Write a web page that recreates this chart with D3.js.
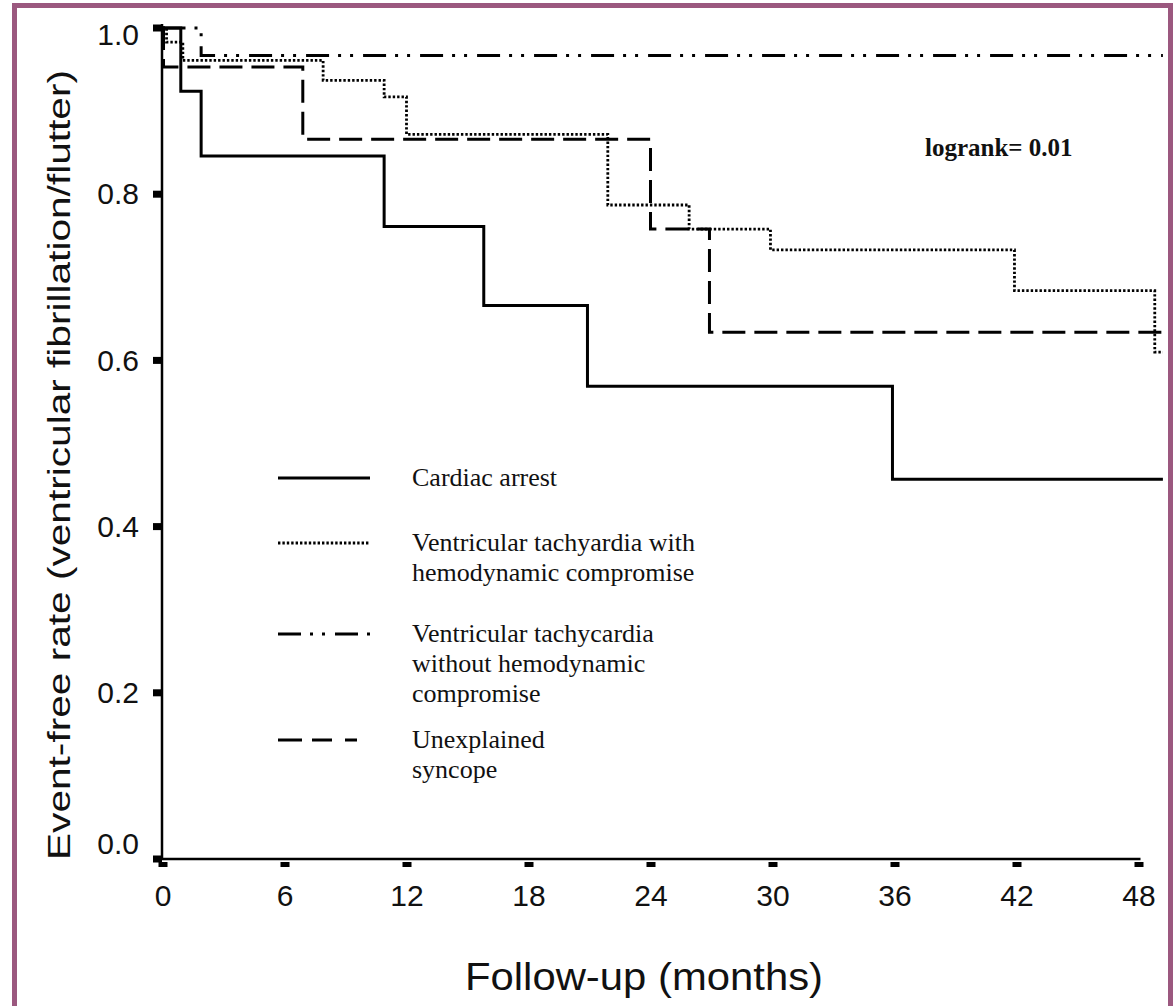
<!DOCTYPE html>
<html>
<head>
<meta charset="utf-8">
<script src="https://cdn.jsdelivr.net/npm/d3@7"></script>
<style>
  html, body { margin: 0; padding: 0; background: #fff; }
  svg { display: block; }
</style>
</head>
<body>
<div id="chart"></div>
<script>
(function () {

    // tick labels
    const monthTicks = [0, 6, 12, 18, 24, 30, 36, 42, 48]
    const rateTicks = [0, 0.2, 0.4, 0.6, 0.8, 1.0]

    // Kaplan-Meier steps (time in months, event-free rate)
    const cardiacTimes = [0, 0.9, 1.9, 10.9, 15.8, 20.9, 35.9, 49.2]
    const cardiacRates = [1.0, 0.924, 0.846, 0.761, 0.666, 0.569, 0.457, 0.457]

    const vtWithTimes = [0, 0.2, 1.0, 7.9, 10.9, 12.0, 21.9, 25.9, 29.9, 41.9, 48.8, 49.2]
    const vtWithRates = [1.0, 0.983, 0.961, 0.937, 0.917, 0.872, 0.787, 0.758, 0.733, 0.684, 0.610, 0.610]

    const vtWithoutTimes = [0, 1.9, 49.2]
    const vtWithoutRates = [1.0, 0.967, 0.967]

    const syncopeTimes = [0, 0.05, 6.9, 24.0, 26.9, 49.2]
    const syncopeRates = [1.0, 0.953, 0.866, 0.758, 0.634, 0.634]

    const seriesNames = [
        ["Cardiac arrest"],
        ["Ventricular tachyardia with", "hemodynamic compromise"],
        ["Ventricular tachycardia", "without hemodynamic", "compromise"],
        ["Unexplained", "syncope"]
    ]

    const width = 1173, height = 1006
    const border = "#9b587f"

    const svg = d3.select("#chart")
        .append("svg")
        .attr("width", width)
        .attr("height", height)

    svg.append("rect")
        .attr("x", 14.5).attr("y", 5.5)
        .attr("width", 1156).attr("height", 1020)
        .attr("fill", "#fff")
        .attr("stroke", border)
        .attr("stroke-width", 5)

    const x = d3.scaleLinear().domain([0, 48]).range([162.5, 1138.5])
    const y = d3.scaleLinear().domain([0, 1]).range([859, 28])

    // line styles per series
    const styles = [
        {dash: null, width: 3},
        {dash: "2.4,2", width: 2.8},
        {dash: "23,9,3,9,3,10", width: 3},
        {dash: "23,9", width: 3}
    ]

    const series = [
        d3.zip(cardiacTimes, cardiacRates),
        d3.zip(vtWithTimes, vtWithRates),
        d3.zip(vtWithoutTimes, vtWithoutRates),
        d3.zip(syncopeTimes, syncopeRates)
    ]

    // x axis: labels only, ticks drawn as little blocks
    svg.append("g")
        .attr("transform", "translate(0,859)")
        .call(d3.axisBottom(x).tickValues(monthTicks).tickSize(0).tickPadding(26)
            .tickFormat(d3.format("d")))
        .call(g => g.select(".domain").remove())
        .call(g => g.selectAll("text")
            .attr("font-family", "Liberation Sans, Arial, sans-serif")
            .attr("font-size", 30)
            .attr("fill", "#111"))

    svg.append("g")
        .attr("transform", "translate(162,0)")
        .call(d3.axisLeft(y).tickValues(rateTicks).tickSize(0).tickPadding(23)
            .tickFormat(d3.format(".1f")))
        .call(g => g.select(".domain").remove())
        .call(g => g.selectAll("text")
            .attr("font-family", "Liberation Sans, Arial, sans-serif")
            .attr("font-size", 30)
            .attr("fill", "#111")
            .attr("y", d => d === 0 ? -15 : (d === 1 ? 7 : 0)))

    svg.append("g").selectAll("rect")
        .data(monthTicks)
        .join("rect")
        .attr("x", d => x(d) - 4)
        .attr("y", 862)
        .attr("width", 9)
        .attr("height", 5)
        .attr("fill", "#000")

    svg.append("g").selectAll("rect")
        .data(rateTicks)
        .join("rect")
        .attr("x", 153)
        .attr("y", d => y(d) - 3.5)
        .attr("width", 9)
        .attr("height", 7)
        .attr("fill", "#000")

    // axis lines
    svg.append("line")
        .attr("x1", 162).attr("x2", 162)
        .attr("y1", y(1) - 4).attr("y2", y(0) + 1)
        .attr("stroke", "#000").attr("stroke-width", 2.5)
    svg.append("line")
        .attr("x1", 161).attr("x2", x(48) + 2)
        .attr("y1", y(0)).attr("y2", y(0))
        .attr("stroke", "#000").attr("stroke-width", 2.5)

    // curves
    const line = d3.line()
        .x(d => x(d[0]))
        .y(d => y(d[1]))
        .curve(d3.curveStepAfter)

    svg.append("g").selectAll("path")
        .data(series)
        .join("path")
        .attr("fill", "none")
        .attr("stroke", "#000")
        .attr("stroke-width", (d, i) => styles[i].width)
        .attr("stroke-dasharray", (d, i) => styles[i].dash)
        .attr("d", line)

    // legend
    const legendRows = [478, 543, 634, 740]
    const legend = svg.append("g")
    legendRows.forEach((ly, i) => {
        legend.append("line")
            .attr("x1", 278).attr("x2", i === 3 ? 357 : 370)
            .attr("y1", ly).attr("y2", ly)
            .attr("stroke", "#000")
            .attr("stroke-width", styles[i].width)
            .attr("stroke-dasharray", i === 3 ? "24,10,20,13,12" : styles[i].dash)
        const t = legend.append("text")
            .attr("x", 412)
            .attr("y", ly + 8)
            .attr("font-family", "Liberation Serif, Times New Roman, serif")
            .attr("font-size", 26)
            .attr("fill", "#111")
        seriesNames[i].forEach((s, j) => {
            t.append("tspan").attr("x", 412).attr("dy", j === 0 ? 0 : 30).text(s)
        })
    })

    svg.append("text")
        .attr("x", 925).attr("y", 156)
        .attr("font-family", "Liberation Serif, Times New Roman, serif")
        .attr("font-weight", "bold")
        .attr("font-size", 25)
        .attr("fill", "#111")
        .text("logrank= 0.01")

    // axis titles
    svg.append("text")
        .attr("x", 644).attr("y", 990)
        .attr("text-anchor", "middle")
        .attr("font-family", "Liberation Sans, Arial, sans-serif")
        .attr("font-size", 38)
        .attr("textLength", 358)
        .attr("lengthAdjust", "spacingAndGlyphs")
        .attr("fill", "#111")
        .text("Follow-up (months)")

    svg.append("text")
        .attr("transform", "translate(70,465) rotate(-90)")
        .attr("text-anchor", "middle")
        .attr("font-family", "Liberation Sans Narrow, Liberation Sans, Arial, sans-serif")
        .attr("font-size", 31)
        .attr("textLength", 790)
        .attr("lengthAdjust", "spacingAndGlyphs")
        .attr("fill", "#111")
        .text("Event-free rate (ventricular fibrillation/flutter)")

})()
</script>
</body>
</html>
